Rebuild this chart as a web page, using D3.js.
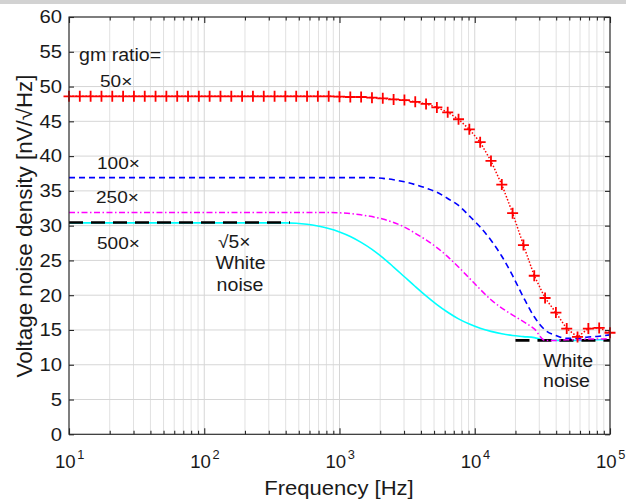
<!DOCTYPE html>
<html>
<head>
<meta charset="utf-8">
<script src="https://cdn.jsdelivr.net/npm/d3@7"></script>
<style>
  body { margin: 0; background: #fff; }
  svg text { font-family: "Liberation Sans", Arial, Helvetica, sans-serif; }
</style>
</head>
<body>
<div id="chart"></div>
<script>
'use strict';

// frequency grid (Hz)
var freq = [10, 12.02, 14.45, 17.38, 20.89, 25.12, 30.2, 36.31, 43.65, 52.48,
    63.1, 75.86, 91.2, 109.6, 131.8, 158.5, 190.5, 229.1, 275.4, 331.1,
    398.1, 478.6, 575.4, 691.8, 831.8, 1000, 1202, 1445, 1738, 2089,
    2512, 3020, 3631, 4365, 5248, 6310, 7586, 9120, 10965, 13183,
    15849, 19055, 22909, 27542, 33113, 39811, 47863, 57544, 69183, 83176,
    100000];

// noise density, nV/sqrt(Hz), one value per frequency
var ratio50 = [48.6, 48.6, 48.6, 48.6, 48.6, 48.6, 48.6, 48.6, 48.6, 48.6,
    48.6, 48.6, 48.6, 48.6, 48.6, 48.6, 48.6, 48.6, 48.6, 48.6,
    48.6, 48.6, 48.6, 48.6, 48.6, 48.55, 48.5, 48.5, 48.4, 48.3,
    48.15, 48.05, 47.8, 47.5, 47.0, 46.3, 45.3, 43.85, 42.0, 39.3,
    35.9, 31.8, 27.2, 22.8, 19.6, 17.5, 15.2, 14.0, 15.2, 15.3,
    14.6];

var ratio100 = [36.9, 36.9, 36.9, 36.9, 36.9, 36.9, 36.9, 36.9, 36.9, 36.9,
    36.9, 36.9, 36.9, 36.9, 36.9, 36.9, 36.9, 36.9, 36.9, 36.9,
    36.9, 36.9, 36.9, 36.9, 36.9, 36.9, 36.9, 36.9, 36.9, 36.8,
    36.6, 36.3, 35.9, 35.4, 34.8, 33.9, 32.9, 31.4, 29.8, 27.9,
    25.6, 22.8, 19.7, 16.9, 15.0, 14.2, 13.8, 13.8, 14.0, 14.1,
    14.3];

var ratio250 = [31.9, 31.9, 31.9, 31.9, 31.9, 31.9, 31.9, 31.9, 31.9, 31.9,
    31.9, 31.9, 31.9, 31.9, 31.9, 31.9, 31.9, 31.9, 31.9, 31.9,
    31.9, 31.9, 31.9, 31.9, 31.9, 31.85, 31.75, 31.55, 31.3, 30.95,
    30.45, 29.8, 28.9, 27.95, 26.85, 25.55, 24.05, 22.45, 20.85, 19.35,
    18.15, 17.15, 16.2, 15.15, 13.5, 13.5, 13.6, 13.6, 13.7, 13.7,
    13.8];

var ratio500 = [30.4, 30.4, 30.4, 30.4, 30.4, 30.4, 30.4, 30.4, 30.4, 30.4,
    30.4, 30.4, 30.4, 30.4, 30.4, 30.4, 30.4, 30.4, 30.4, 30.4,
    30.4, 30.35, 30.2, 29.95, 29.6, 29.1, 28.45, 27.6, 26.6, 25.4,
    24.05, 22.65, 21.25, 19.9, 18.65, 17.55, 16.6, 15.85, 15.25, 14.8,
    14.45, 14.2, 14.05, 13.9, 13.55, 13.5, 13.5, 13.5, 13.55, 13.6,
    13.6];

// white noise reference lines
var whiteLowFreq = [10, 430],
    whiteLowVal = [30.45, 30.45],
    whiteHighFreq = [20000, 100000],
    whiteHighVal = [13.5, 13.5];

var xTicks = [10, 100, 1000, 10000, 100000],
    xTickExp = ["1", "2", "3", "4", "5"],
    yTicks = [0, 5, 10, 15, 20, 25, 30, 35, 40, 45, 50, 55, 60];

var WIDTH = 626,
    HEIGHT = 500,
    LEFT = 69,
    RIGHT = 610,
    TOP = 17,
    BOTTOM = 434.3,
    AXIS_COLOR = "#262626";

var svg = d3.select("#chart").append("svg")
    .attr("width", WIDTH)
    .attr("height", HEIGHT);

// grey strip at the very top of the screenshot
svg.append("rect")
    .attr("x", 0).attr("y", 0)
    .attr("width", WIDTH).attr("height", 4)
    .attr("fill", "#d2d2d2");

var x = d3.scaleLog().domain([10, 1e5]).range([LEFT, RIGHT]),
    y = d3.scaleLinear().domain([0, 60]).range([BOTTOM, TOP]);

// log minor values 2..9 in every decade
var minorX = [];
xTicks.slice(0, -1).forEach(function (d) {
    for (var k = 2; k <= 9; k += 1) minorX.push(d * k);
});

// grid
var grid = svg.append("g").attr("id", "grid");
grid.selectAll(".minor").data(minorX).enter().append("line")
    .attr("x1", function (d) { return x(d); })
    .attr("x2", function (d) { return x(d); })
    .attr("y1", TOP).attr("y2", BOTTOM)
    .attr("stroke", "#e1e1e1").attr("stroke-width", 1);
grid.selectAll(".majx").data(xTicks).enter().append("line")
    .attr("x1", function (d) { return x(d); })
    .attr("x2", function (d) { return x(d); })
    .attr("y1", TOP).attr("y2", BOTTOM)
    .attr("stroke", "#d6d6d6").attr("stroke-width", 1);
grid.selectAll(".majy").data(yTicks).enter().append("line")
    .attr("x1", LEFT).attr("x2", RIGHT)
    .attr("y1", function (d) { return y(d); })
    .attr("y2", function (d) { return y(d); })
    .attr("stroke", "#d6d6d6").attr("stroke-width", 1);

var line = d3.line()
    .x(function (d) { return x(d[0]); })
    .y(function (d) { return y(d[1]); });

function zipped(fs, vs) {
    return fs.map(function (f, i) { return [f, vs[i]]; });
}

var curves = svg.append("g").attr("id", "curves");

curves.append("path")
    .attr("d", line.curve(d3.curveMonotoneX)(zipped(freq, ratio500)))
    .attr("fill", "none").attr("stroke", "#00ffff").attr("stroke-width", 1.6);

curves.append("path")
    .attr("d", line.curve(d3.curveLinear)(zipped(whiteLowFreq, whiteLowVal)))
    .attr("fill", "none").attr("stroke", "#000").attr("stroke-width", 2.6)
    .attr("stroke-dasharray", "14,8");
curves.append("path")
    .attr("d", line(zipped(whiteHighFreq, whiteHighVal)))
    .attr("fill", "none").attr("stroke", "#000").attr("stroke-width", 2.6)
    .attr("stroke-dasharray", "14,8");

curves.append("path")
    .attr("d", line.curve(d3.curveMonotoneX)(zipped(freq, ratio250)))
    .attr("fill", "none").attr("stroke", "#ff00ff").attr("stroke-width", 1.5)
    .attr("stroke-dasharray", "6,2.5,1.5,2.5");

curves.append("path")
    .attr("d", line(zipped(freq, ratio100)))
    .attr("fill", "none").attr("stroke", "#0000ff").attr("stroke-width", 1.6)
    .attr("stroke-dasharray", "6,4");

curves.append("path")
    .attr("d", line.curve(d3.curveLinear)(zipped(freq, ratio50)))
    .attr("fill", "none").attr("stroke", "#ff0000").attr("stroke-width", 1.5)
    .attr("stroke-dasharray", "1.5,1.8");

// + markers on the 50x curve
var M = 5.5;
curves.selectAll(".plus").data(zipped(freq, ratio50)).enter().append("path")
    .attr("d", function (d) {
        var px = x(d[0]), py = y(d[1]);
        return "M" + (px - M) + "," + py + "H" + (px + M) +
            "M" + px + "," + (py - M) + "V" + (py + M);
    })
    .attr("fill", "none").attr("stroke", "#ff0000").attr("stroke-width", 1.8);

// box + inward ticks
var axes = svg.append("g").attr("id", "axes");
axes.append("rect")
    .attr("x", LEFT).attr("y", TOP)
    .attr("width", RIGHT - LEFT).attr("height", BOTTOM - TOP)
    .attr("fill", "none").attr("stroke", AXIS_COLOR).attr("stroke-width", 1.1);

var bottomAxis = d3.axisBottom(x).tickValues(xTicks).tickSize(-6).tickFormat(""),
    bottomMinor = d3.axisBottom(x).tickValues(minorX).tickSize(-3.5).tickFormat(""),
    topAxis = d3.axisTop(x).tickValues(xTicks).tickSize(-6).tickFormat(""),
    topMinor = d3.axisTop(x).tickValues(minorX).tickSize(-3.5).tickFormat(""),
    leftAxis = d3.axisLeft(y).tickValues(yTicks).tickSize(-5).tickFormat(""),
    rightAxis = d3.axisRight(y).tickValues(yTicks).tickSize(-5).tickFormat("");

[[bottomAxis, "translate(0," + BOTTOM + ")"],
 [bottomMinor, "translate(0," + BOTTOM + ")"],
 [topAxis, "translate(0," + TOP + ")"],
 [topMinor, "translate(0," + TOP + ")"],
 [leftAxis, "translate(" + LEFT + ",0)"],
 [rightAxis, "translate(" + RIGHT + ",0)"]].forEach(function (a) {
    var g = axes.append("g").attr("transform", a[1]).call(a[0]);
    g.select(".domain").remove();
    g.selectAll(".tick line").attr("stroke", AXIS_COLOR).attr("stroke-width", 1.1);
});

// text helper: horizontally stretched text like the source picture
function label(parent, txt, px, py, size, anchor, sx) {
    return parent.append("text")
        .attr("transform", "translate(" + px + "," + py + ") scale(" + sx + ",1)")
        .attr("text-anchor", anchor)
        .attr("font-size", size)
        .attr("fill", "#1a1a1a")
        .text(txt);
}

var texts = svg.append("g").attr("id", "texts");

// y tick labels
yTicks.forEach(function (d) {
    label(texts, d, 62, y(d) + 6.3, 17.8, "end", 1.14);
});

// x tick labels 10^n
xTicks.forEach(function (d, i) {
    var t = texts.append("text")
        .attr("x", x(d) - 14).attr("y", 468.3)
        .attr("font-size", 18.6)
        .attr("fill", "#1a1a1a");
    t.append("tspan").text("10");
    t.append("tspan").attr("dy", -9.5).attr("dx", 1.5)
        .attr("font-size", 12.8).text(xTickExp[i]);
});

// axis titles
label(texts, "Frequency [Hz]", 339, 494.5, 21, "middle", 1.05);
texts.append("text")
    .attr("transform", "translate(32,226) rotate(-90) scale(1.04,1)")
    .attr("text-anchor", "middle")
    .attr("font-size", 21.5)
    .attr("fill", "#1a1a1a")
    .text("Voltage noise density [nV/\u221AHz]");

// annotations inside the plot
label(texts, "gm ratio=", 79, 61, 17.5, "start", 1.12);
label(texts, "50\u00D7", 100, 87, 17, "start", 1.12);
label(texts, "100\u00D7", 97, 168.5, 17, "start", 1.12);
label(texts, "250\u00D7", 96, 202.5, 17, "start", 1.12);
label(texts, "500\u00D7", 97, 248.5, 17, "start", 1.12);
label(texts, "\u221A5\u00D7", 218, 248, 17.5, "start", 1.1);
label(texts, "White", 240.5, 269, 17.5, "middle", 1.12);
label(texts, "noise", 240, 290.5, 17.5, "middle", 1.12);
label(texts, "White", 543, 366.7, 17.5, "start", 1.12);
label(texts, "noise", 543, 387, 17.5, "start", 1.12);
</script>
</body>
</html>
